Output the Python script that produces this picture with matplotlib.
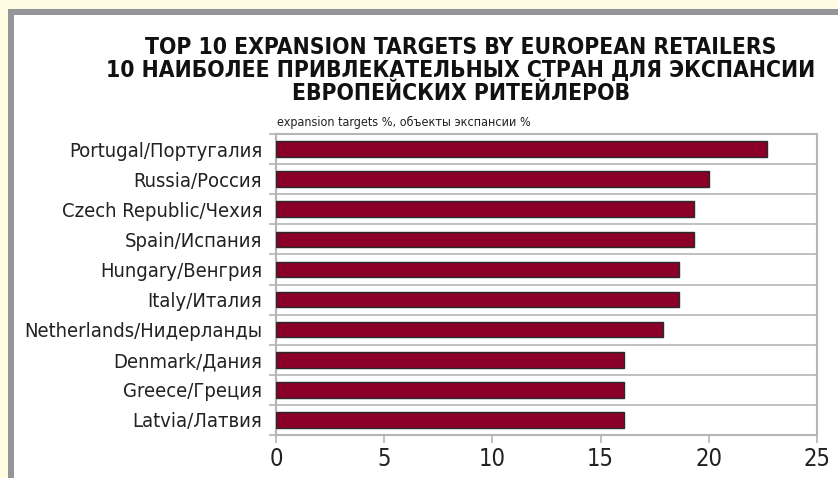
import matplotlib.pyplot as plt
from matplotlib.patches import Rectangle

# ===== data =====
countries = ["Portugal/Португалия", "Russia/Россия", "Czech Republic/Чехия",
             "Spain/Испания", "Hungary/Венгрия", "Italy/Италия",
             "Netherlands/Нидерланды", "Denmark/Дания", "Greece/Греция",
             "Latvia/Латвия"]
values = [22.7, 20.0, 19.3, 19.3, 18.6, 18.6, 17.9, 16.1, 16.1, 16.1]
xticks = [0, 5, 10, 15, 20, 25]

title_lines = "TOP 10 EXPANSION TARGETS BY EUROPEAN RETAILERS\n" \
              "10 НАИБОЛЕЕ ПРИВЛЕКАТЕЛЬНЫХ СТРАН ДЛЯ ЭКСПАНСИИ\n" \
              "ЕВРОПЕЙСКИХ РИТЕЙЛЕРОВ"
subtitle = "expansion targets %, объекты экспансии %"

plt.rcParams['font.family'] = ['DejaVu Sans']
plt.rcParams['font.stretch'] = 'condensed'

W, H = 838, 478
fig = plt.figure(figsize=(W / 100, H / 100), dpi=100, facecolor='#fffbe3')

# grey frame + white panel (background axes)
bg = fig.add_axes([0, 0, 1, 1], zorder=-5)
bg.set_xlim(0, W)
bg.set_ylim(H, 0)
bg.axis('off')
bg.add_patch(Rectangle((8, 9), W, H, facecolor='#939598', edgecolor='none'))
bg.add_patch(Rectangle((14, 15), W, H, facecolor='white', edgecolor='none'))

ax = fig.add_axes([276 / W, 1 - 435 / H, (817 - 276) / W, (435 - 134) / H], zorder=2)
ax.set_facecolor('white')

ypos = list(range(len(countries)))
ax.barh(ypos, values, height=0.52, color='#8a0028', edgecolor='#2a2a2a', linewidth=1, zorder=3)
ax.set_ylim(len(countries) - 0.5, -0.5)
ax.set_xlim(0, 25)

ax.set_yticks(ypos)
ax.set_yticklabels(countries, fontsize=14.5, color='#222222')
ax.tick_params(axis='y', which='major', length=0, pad=10)
bounds = [i + 0.5 for i in range(-1, len(countries))]
ax.set_yticks(bounds, minor=True)
ax.tick_params(axis='y', which='minor', length=5, color='#b5b5b5', width=1.2)
ax.grid(True, axis='y', which='minor', color='#b5b5b5', linewidth=1.2, zorder=1)

ax.set_xticks(xticks)
ax.set_xticklabels([str(t) for t in xticks], fontsize=17, color='#222222')
ax.tick_params(axis='x', length=6, color='#b5b5b5', width=1.2, pad=3)

for s in ax.spines.values():
    s.set_color('#b5b5b5')
    s.set_linewidth(1.5)

fig.text(461 / W, 1 - 36 / H, title_lines, ha='center', va='top', fontsize=16.4,
         fontweight='bold', color='#111111', linespacing=1.0)
fig.text(277 / W, 1 - 122 / H, subtitle, ha='left', va='center', fontsize=9,
         color='#222222')

fig.savefig('out.png', dpi=100, facecolor=fig.get_facecolor())
